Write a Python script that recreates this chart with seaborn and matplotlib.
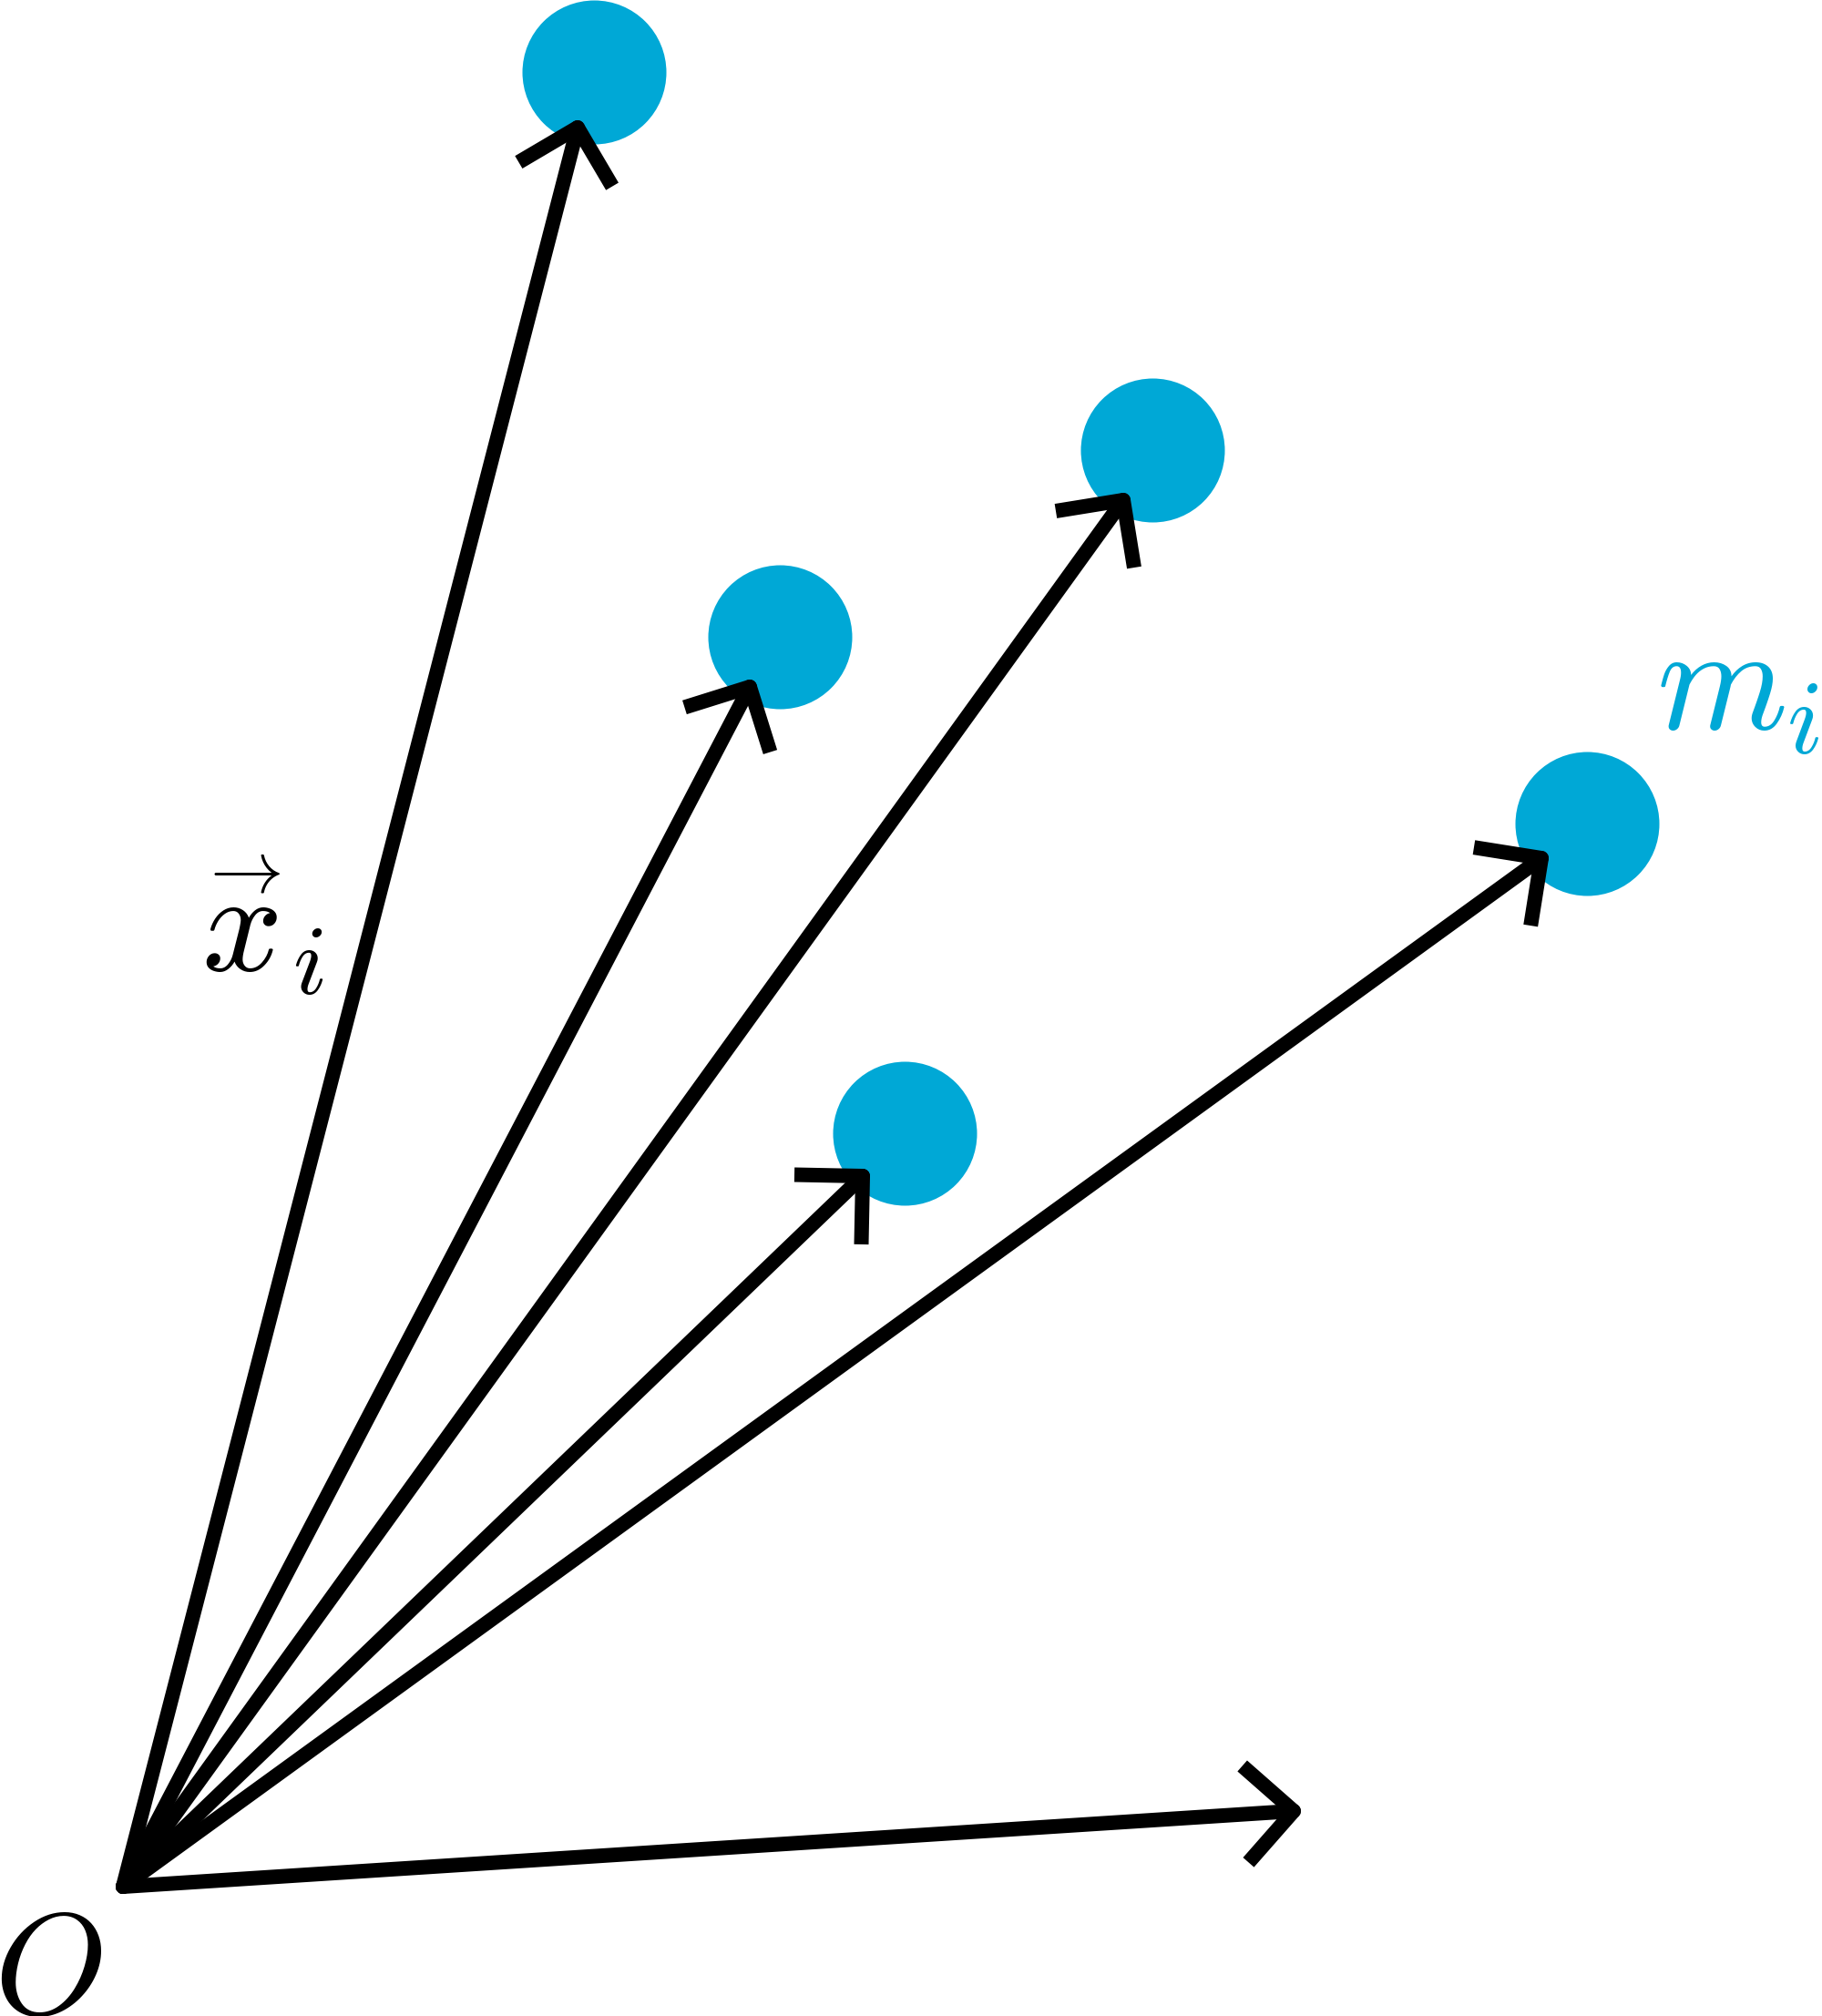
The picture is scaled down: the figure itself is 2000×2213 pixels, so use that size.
import numpy as np
import matplotlib
matplotlib.use("Agg")
import matplotlib.pyplot as plt
import seaborn as sns
import pandas as pd

# ---- data (pixel coordinates of the diagram, y downwards) ----
origin_x = 135
origin_y = 2071
tip_x = [634, 823, 1233, 947, 1692, 1420]
tip_y = [140, 754, 549, 1291, 942, 1988]
dot_x = [652, 856, 1265, 993, 1742]
dot_y = [79, 699, 494, 1244, 904]
labels = [r"$x_{\hspace{0.12}i}$", r"$m_i$", r"$O$"]
vec_mark = r"$\rightarrow$"

W, H, DPI = 2000, 2213, 100
LINE_PX = 16
ARM_PX = 75
DOT_R_PX = 79
CYAN = "#00a8d6"

sns.set_theme(style="white")
plt.rcParams["mathtext.fontset"] = "cm"
plt.rcParams["font.family"] = ["DejaVu Sans"]

fig = plt.figure(figsize=(W / DPI, H / DPI), dpi=DPI)
ax = fig.add_axes([0, 0, 1, 1])
ax.set_xlim(0, W)
ax.set_ylim(H, 0)
ax.axis("off")

px2pt = 72.0 / DPI
lw = LINE_PX * px2pt

# dots
dots = pd.DataFrame({"x": dot_x, "y": dot_y})
diam_pt = 2 * DOT_R_PX * px2pt
sns.scatterplot(data=dots, x="x", y="y", ax=ax, s=diam_pt ** 2, color=CYAN,
                linewidth=0, zorder=1, legend=False)

# arrows
def rot(v, a):
    return np.array([v[0] * np.cos(a) - v[1] * np.sin(a),
                     v[0] * np.sin(a) + v[1] * np.cos(a)])

for tx, ty in zip(tip_x, tip_y):
    ax.plot([origin_x, tx], [origin_y, ty], color="black", lw=lw,
            solid_capstyle="round", zorder=2)
    d = np.array([origin_x - tx, origin_y - ty], dtype=float)
    d /= np.hypot(*d)
    ang = np.deg2rad(45)
    a1 = np.array([tx, ty]) + ARM_PX * rot(d, ang)
    a2 = np.array([tx, ty]) + ARM_PX * rot(d, -ang)
    ax.plot([a1[0], tx, a2[0]], [a1[1], ty, a2[1]], color="black", lw=lw,
            solid_capstyle="butt", solid_joinstyle="round", zorder=3)

# labels
ax.text(221, 1066, labels[0], fontsize=112, color="black", ha="left", va="baseline")
ax.text(262, 958, vec_mark, fontsize=58, color="black", ha="center", va="center")
ax.text(1818, 800, labels[1], fontsize=118, color=CYAN, ha="left", va="baseline")
ax.text(-7, 2211, labels[2], fontsize=114, color="black", ha="left", va="baseline")

fig.savefig("out.png", dpi=DPI)
